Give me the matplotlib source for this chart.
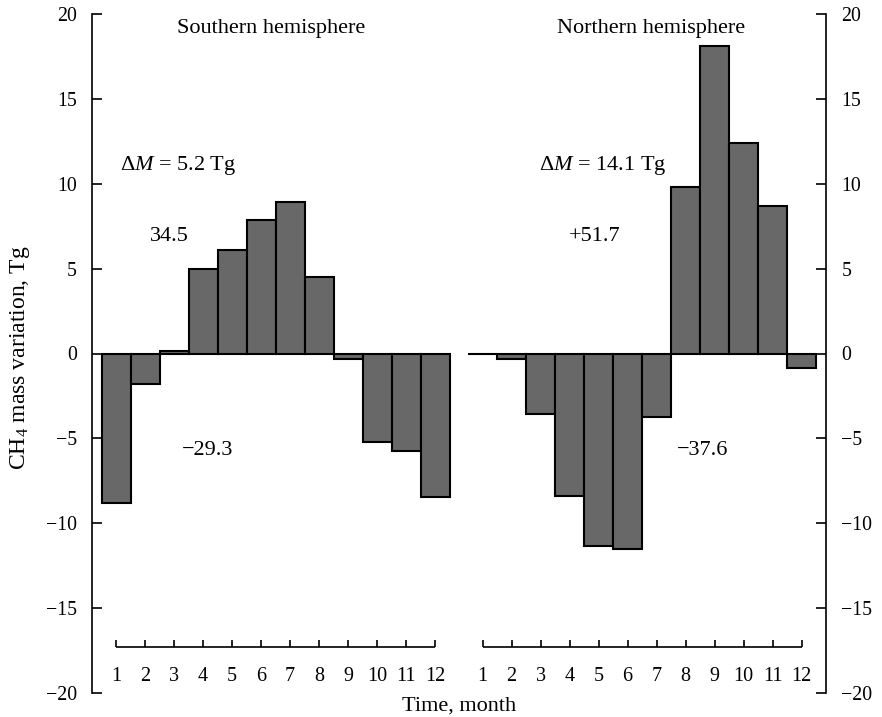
import matplotlib
matplotlib.use("Agg")
import matplotlib.pyplot as plt
import numpy as np

plt.rcParams['font.family'] = ['Liberation Serif', 'DejaVu Serif']
plt.rcParams['mathtext.fontset'] = 'custom'
plt.rcParams['mathtext.rm'] = 'Liberation Serif'
plt.rcParams['mathtext.it'] = 'Liberation Serif:italic'
plt.rcParams['axes.unicode_minus'] = True

months = list(range(1, 13))
south = [-8.8, -1.8, 0.15, 4.95, 6.07, 7.84, 8.9, 4.48, -0.35, -5.22, -5.72, -8.47]
north = [-0.05, -0.3, -3.55, -8.37, -11.35, -11.49, -3.75, 9.78, 18.09, 12.43, 8.66, -0.88]
panel_titles = ["Southern hemisphere", "Northern hemisphere"]
delta_labels = [r"$\Delta M$ = 5.2 Tg", r"$\Delta M$ = 14.1 Tg"]
pos_labels = ["34.5", "+51.7"]
neg_labels = ["\u221229.3", "\u221237.6"]
yticks = [-20, -15, -10, -5, 0, 5, 10, 15, 20]

offset = 12.64
fig = plt.figure(figsize=(8.82, 7.17), dpi=100)
ax = fig.add_axes([92/882, (717-693)/717, (826-92)/882, (693-14)/717])

xs_s = np.array(months, dtype=float)
xs_n = np.array(months, dtype=float) + offset
bar_color = '#686868'
ax.bar(xs_s, south, width=1.0, color=bar_color, edgecolor='black', linewidth=1.5)
ax.bar(xs_n, north, width=1.0, color=bar_color, edgecolor='black', linewidth=1.5)

ax.set_xlim(0.17, 25.48)
ax.set_ylim(-20, 20)
for s in ['top', 'bottom']:
    ax.spines[s].set_visible(False)
for s in ['left', 'right']:
    ax.spines[s].set_linewidth(1.2)
ax.set_xticks([])
ax.set_yticks(yticks)
ax.tick_params(axis='y', direction='in', length=7, width=1.2, left=True, right=True,
               labelleft=True, labelright=True, labelsize=14.3, pad=11)

# month axes (brackets)
ybase = -17.3
for xs in (xs_s, xs_n):
    ax.plot([xs[0], xs[-1]], [ybase, ybase], color='black', lw=1.2, solid_capstyle='butt')
    ax.vlines(xs, ybase, ybase + 0.45, color='black', lw=1.2)
    for x, m in zip(xs, months):
        ax.text(x, -19.0, str(m), ha='center', va='center', fontsize=14.5)

ax.text(6.35, 19.15, panel_titles[0], ha='center', va='center', fontsize=16)
ax.text(xs_n[0] + 5.8, 19.15, panel_titles[1], ha='center', va='center', fontsize=16)

ax.text(1.15, 11.1, delta_labels[0], ha='left', va='center', fontsize=16)
ax.text(xs_n[0] + 1.95, 11.1, delta_labels[1], ha='left', va='center', fontsize=16)
ax.text(2.85, 6.9, pos_labels[0], ha='center', va='center', fontsize=16)
ax.text(xs_n[0] + 3.85, 6.9, pos_labels[1], ha='center', va='center', fontsize=16)
ax.text(4.15, -5.7, neg_labels[0], ha='center', va='center', fontsize=16)
ax.text(xs_n[0] + 7.6, -5.7, neg_labels[1], ha='center', va='center', fontsize=16)

fig.text(20/882, 1 - 358/717, r"CH$_4$ mass variation, Tg", rotation=90,
         ha='center', va='center', fontsize=17)
fig.text(459/882, 1 - 706/717, "Time, month", ha='center', va='center', fontsize=16)

fig.savefig("out.png", dpi=100)
